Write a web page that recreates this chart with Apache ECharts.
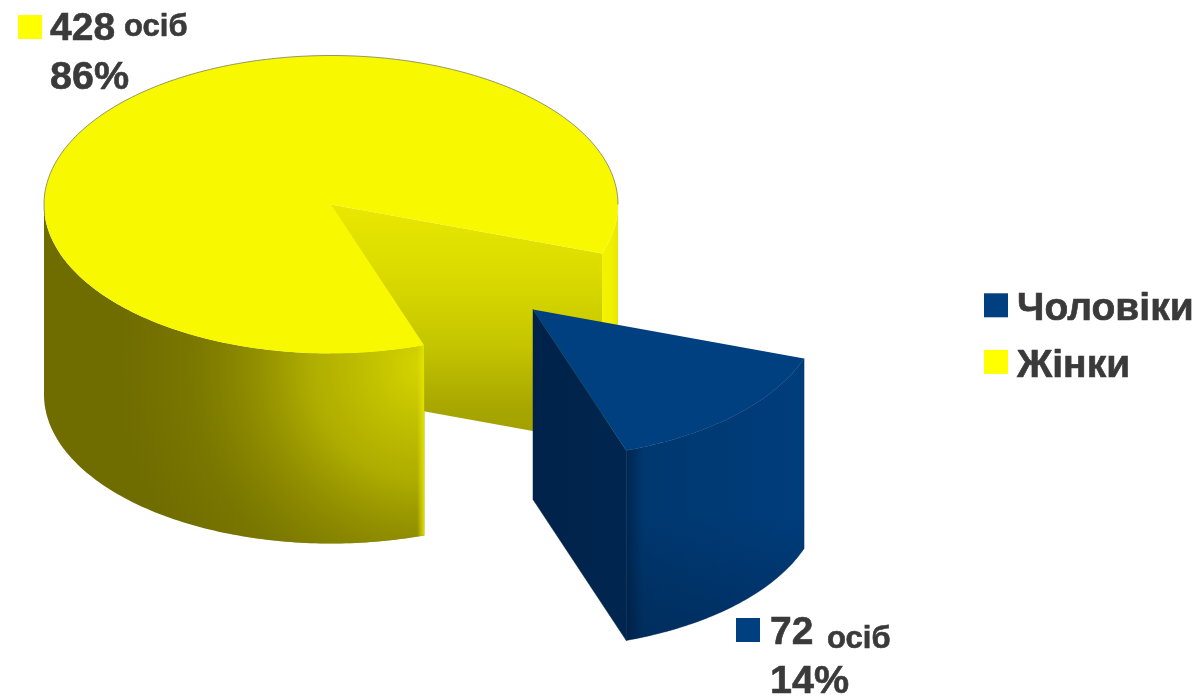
<!DOCTYPE html>
<html>
<head>
<meta charset="utf-8">
<style>
  html, body { margin: 0; padding: 0; background: #fff; }
  #chart { width: 1201px; height: 696px; }
</style>
<script src="https://cdn.jsdelivr.net/npm/echarts@6/dist/echarts.min.js"></script>
</head>
<body>
<div id="chart"></div>
<script>
// data
const categories = ['Жінки', 'Чоловіки']
const values = [428, 72]
const legendOrder = ['Чоловіки', 'Жінки']
const unit = 'осіб'

// layout of the fake 3d pie
const cx = 331
const cy = 204.5
const rx = 287
const ry = 149
const depth = 190
const startDeg = 19.2
const explode = [202, 105]
const fontFamily = '"Liberation Sans", Arial, sans-serif'
const textColor = '#3a3a3a'

const total = values.reduce((a, b) => a + b, 0)
const maleSpan = (values[1] / total) * 360

const rim = (deg, ox, oy) => {
  const a = (deg * Math.PI) / 180
  return [ox + rx * Math.cos(a), oy + ry * Math.sin(a)]
}
const arc = (from, to, ox, oy) => {
  const pts = []
  const n = Math.ceil(Math.abs(to - from))
  for (let i = 0; i <= n; i++) pts.push(rim(from + ((to - from) * i) / n, ox, oy))
  return pts
}
const sideWall = (from, to, ox, oy) => {
  const top = arc(from, to, ox, oy)
  const bottom = top.map(p => [p[0], p[1] + depth]).reverse()
  return top.concat(bottom)
}
const poly = (points, fill, extra) => ({
  type: 'polygon',
  shape: { points },
  style: Object.assign({ fill }, extra || {})
})
const lin = (x, y, x2, y2, stops) =>
  new echarts.graphic.LinearGradient(x, y, x2, y2, stops.map(s => ({ offset: s[0], color: s[1] })))
// y is the baseline, the text element itself is placed from its top
const label = (x, y, text, size) => ({
  type: 'text',
  style: {
    x,
    y: y - size * 0.83,
    text,
    fill: textColor,
    stroke: textColor,
    lineWidth: 0.6,
    font: `bold ${size}px ${fontFamily}`
  }
})
const mark = (x, y, fill) => ({ type: 'rect', shape: { x, y, width: 24, height: 24 }, style: { fill } })

const renderFemale = (params, api) => {
  const value = api.value(0)
  const pct = Math.round((value / total) * 100)
  const endDeg = startDeg + maleSpan
  const hi = rim(startDeg, cx, cy)
  const lo = rim(endDeg, cx, cy)
  const backWall = [[cx, cy], hi, [hi[0], hi[1] + depth], [cx, cy + depth]]
  const front = sideWall(endDeg, 180, cx, cy)
  const top = [[cx, cy]].concat(arc(endDeg, 360 + startDeg, cx, cy))
  const glow = new echarts.graphic.RadialGradient(lo[0], lo[1] + 20, 330, [
    { offset: 0, color: 'rgba(214,214,0,1)' },
    { offset: 0.35, color: 'rgba(190,188,0,0.8)' },
    { offset: 0.7, color: 'rgba(150,148,0,0.3)' },
    { offset: 1, color: 'rgba(120,118,0,0)' }
  ], true)
  return {
    type: 'group',
    children: [
      poly(sideWall(0, startDeg, cx, cy), lin(0, 0, 1, 0, [[0, '#f4f400'], [0.6, '#f0f000'], [1, '#e8e800']])),
      poly(backWall, lin(0, 0, 0, 1, [[0, '#e8e800'], [0.3, '#dada00'], [0.6, '#c4c400'], [0.85, '#a8a600'], [1, '#a09e00']])),
      poly(front, '#6f6c00'),
      poly(front, glow),
      poly(sideWall(endDeg, endDeg + 1.5, cx, cy), lin(1, 0, 0, 0, [[0, 'rgba(228,228,0,0.9)'], [1, 'rgba(228,228,0,0)']])),
      poly(top, '#f8f800'),
      { type: 'polyline', shape: { points: arc(176, 360, cx, cy) }, style: { fill: null, stroke: 'rgba(125,125,95,0.8)', lineWidth: 1 } },
      mark(18, 15, '#ffff00'),
      label(50, 42, String(value), 39),
      label(124, 38, unit, 31),
      label(50, 91, pct + '%', 39.5)
    ]
  }
}

const renderMale = (params, api) => {
  const value = api.value(0)
  const pct = Math.round((value / total) * 100)
  const ox = cx + explode[0]
  const oy = cy + explode[1]
  const endDeg = startDeg + maleSpan
  const lo = rim(endDeg, ox, oy)
  const innerWall = [[ox, oy], lo, [lo[0], lo[1] + depth], [ox, oy + depth]]
  const top = [[ox, oy]].concat(arc(startDeg, endDeg, ox, oy))
  const side = sideWall(startDeg, endDeg, ox, oy)
  return {
    type: 'group',
    children: [
      poly(innerWall, lin(0, 0, 1, 0, [[0, '#00224a'], [1, '#00264f']]), { stroke: '#00264f', lineWidth: 0.5 }),
      poly(side, lin(1, 0, 0, 0, [[0, '#003d7c'], [0.9, '#00386f'], [1, '#00264f']]), { stroke: '#002f60', lineWidth: 0.5 }),
      poly(side, lin(0, 0, 0, 1, [[0, 'rgba(0,20,50,0)'], [0.55, 'rgba(0,20,50,0)'], [1, 'rgba(0,20,50,0.3)']])),
      poly(top, '#004080'),
      mark(736, 618, '#004080'),
      label(770, 646, String(value), 39),
      label(827, 650, unit, 31),
      label(770, 695, pct + '%', 39.5)
    ]
  }
}

const chart = echarts.init(document.getElementById('chart'), null, { renderer: 'canvas' })
chart.setOption({
  animation: false,
  backgroundColor: '#fff',
  legend: {
    data: legendOrder,
    orient: 'vertical',
    left: 979,
    top: 284.5,
    icon: 'rect',
    itemWidth: 24,
    itemHeight: 24,
    itemGap: 17,
    selectedMode: false,
    formatter: name => `{t|${name}}`,
    textStyle: {
      rich: {
        t: {
          color: textColor,
          fontFamily,
          fontWeight: 'bold',
          fontSize: 39,
          padding: [8, 0, 0, 4],
          textBorderColor: textColor,
          textBorderWidth: 0.6
        }
      }
    }
  },
  series: [
    {
      type: 'custom',
      name: categories[0],
      coordinateSystem: 'none',
      silent: true,
      itemStyle: { color: '#ffff00' },
      renderItem: renderFemale,
      data: [[values[0]]]
    },
    {
      type: 'custom',
      name: categories[1],
      coordinateSystem: 'none',
      silent: true,
      itemStyle: { color: '#004080' },
      renderItem: renderMale,
      data: [[values[1]]]
    }
  ]
})
</script>
</body>
</html>
